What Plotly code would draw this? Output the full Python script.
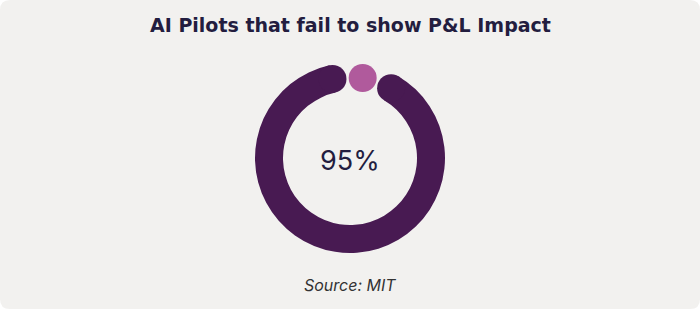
import plotly.graph_objects as go

# ---- data ----
labels = ["Fail to show P&L impact", "Show P&L impact"]
values = [95, 5]
colors = ["#481A52", "#B05A9C"]
title_text = "AI Pilots that fail to show P&L Impact"
center_text = "95%"
source_text = "Source: MIT"

# ---- geometry / style (pixels) ----
W, H = 700, 309
CX, CY = 350, 158          # ring centre in px (from top-left)
R_BOX = 110                # polar domain radius in px
R_IN, R_OUT = 67, 95
THICK = R_OUT - R_IN
R_MID = (R_IN + R_OUT) / 2
PAD_DEG = 12.5             # angular padding at each end of a segment (cap + gap)

fig = go.Figure()

total = sum(values)
start = 0.0
for lab, v, c in zip(labels, values, colors):
    span = v / total * 360.0
    s, e = start + PAD_DEG, start + span - PAD_DEG
    if e < s:
        s = e = start + span / 2
    if e > s:
        fig.add_trace(go.Barpolar(
            r=[THICK], base=[R_IN], theta=[(s + e) / 2], width=[e - s],
            marker=dict(color=c, line=dict(width=0)), name=lab,
            hoverinfo="name", showlegend=False))
    caps = [s, e] if e > s else [s]
    fig.add_trace(go.Scatterpolar(
        r=[R_MID] * len(caps), theta=caps, mode="markers",
        marker=dict(size=THICK, color=c, line=dict(width=0)),
        name=lab, hoverinfo="name", showlegend=False))
    start += span

dx0 = (CX - R_BOX) / W
dx1 = (CX + R_BOX) / W
dy0 = 1 - (CY + R_BOX) / H
dy1 = 1 - (CY - R_BOX) / H

fig.update_layout(
    width=W, height=H,
    margin=dict(l=0, r=0, t=0, b=0),
    paper_bgcolor="white",
    plot_bgcolor="rgba(0,0,0,0)",
    polar=dict(
        domain=dict(x=[dx0, dx1], y=[dy0, dy1]),
        bgcolor="rgba(0,0,0,0)",
        radialaxis=dict(range=[0, R_BOX], visible=False),
        angularaxis=dict(rotation=90, direction="counterclockwise", visible=False),
        barmode="overlay",
    ),
    font=dict(family="Inter, Lato, sans-serif"),
)

# rounded background card
rx, ry = 10 / W, 10 / H
path = (f"M {rx},0 L {1-rx},0 Q 1,0 1,{ry} L 1,{1-ry} Q 1,1 {1-rx},1 "
        f"L {rx},1 Q 0,1 0,{1-ry} L 0,{ry} Q 0,0 {rx},0 Z")
fig.add_shape(type="path", xref="paper", yref="paper", path=path,
              fillcolor="#F2F1EF", line=dict(width=0), layer="below")

fig.add_annotation(text=f"<b>{title_text}</b>", xref="paper", yref="paper",
                   x=0.5, y=1 - 25 / H, showarrow=False, xanchor="center", yanchor="middle",
                   font=dict(size=19, color="#231D3F", family="DejaVu Sans, Inter, sans-serif"))
fig.add_annotation(text=center_text, xref="paper", yref="paper",
                   x=CX / W, y=1 - 160 / H, showarrow=False, xanchor="center", yanchor="middle",
                   font=dict(size=27, color="#231D3F", family="Inter, Lato, sans-serif"))
fig.add_annotation(text=f"<i>{source_text}</i>", xref="paper", yref="paper",
                   x=0.5, y=1 - 285 / H, showarrow=False, xanchor="center", yanchor="middle",
                   font=dict(size=16, color="#333333", family="Inter, Lato, sans-serif"))

fig.write_html("out.html")
